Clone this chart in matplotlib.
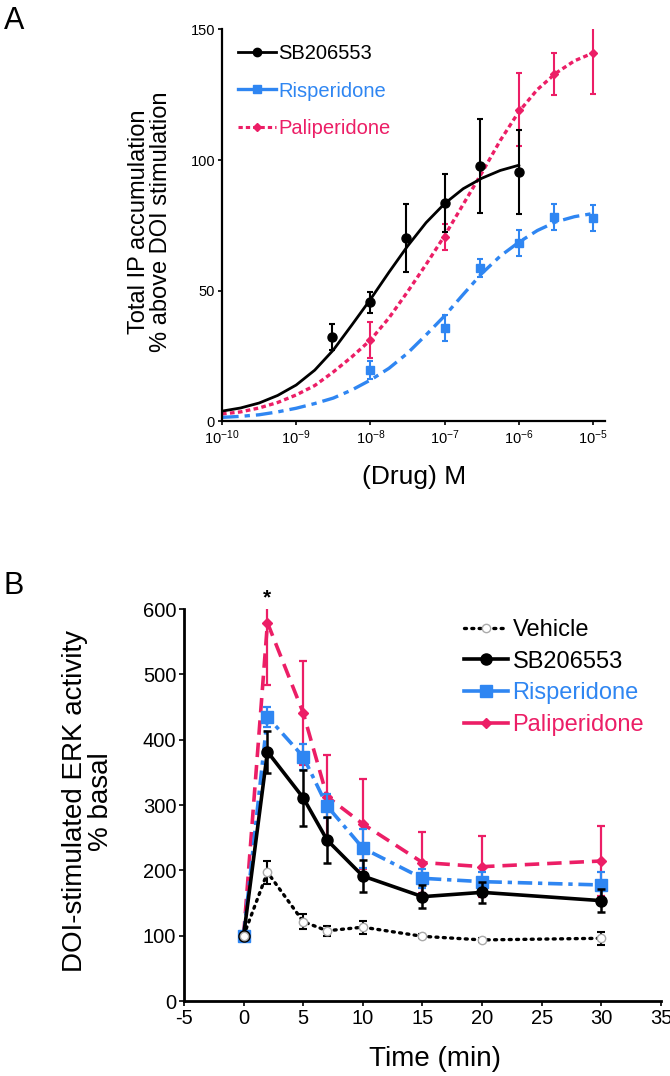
import matplotlib
matplotlib.use("Agg")
import matplotlib.pyplot as plt
import numpy as np

plt.rcParams['font.family'] = ['Liberation Sans', 'DejaVu Sans']
plt.rcParams['mathtext.default'] = 'regular'
plt.rcParams['axes.unicode_minus'] = False

# ---------------- Panel A data ----------------
sb_conc = [3e-9, 1e-8, 3e-8, 1e-7, 3e-7, 1e-6]
sb_resp = [32.1, 45.5, 70.2, 83.6, 97.8, 95.5]
sb_err = [5, 4, 13, 11, 18, 16]

risp_conc = [1e-8, 1e-7, 3e-7, 1e-6, 3e-6, 1e-5]
risp_resp = [19.5, 35.6, 58.5, 68.3, 78.3, 77.7]
risp_err = [3.5, 5, 3.5, 5, 5, 5]

pali_conc = [1e-8, 1e-7, 1e-6, 3e-6, 1e-5]
pali_resp = [31.0, 70.4, 119.2, 132.8, 140.9]
pali_err = [7, 5, 14, 8, 15.5]

# fitted curves (log10 concentration, response)
sb_fit_logc = [-10.0, -9.75, -9.5, -9.25, -9.0, -8.75, -8.5, -8.25, -8.0,
               -7.75, -7.5, -7.25, -7.0, -6.75, -6.5, -6.25, -6.0]
sb_fit = [3.8, 5.0, 6.9, 9.8, 13.8, 19.5, 27.2, 36.8, 46.6,
          57, 67, 76, 83.3, 89, 93, 96, 98]

risp_fit_logc = [-10.0, -9.75, -9.5, -9.25, -9.0, -8.75, -8.5, -8.25, -8.0,
                 -7.75, -7.5, -7.25, -7.0, -6.75, -6.5, -6.25, -6.0,
                 -5.75, -5.5, -5.25, -5.0]
risp_fit = [1.4, 1.8, 2.4, 3.5, 4.9, 6.7, 8.8, 11.9, 15.7,
            20.2, 26, 33, 40.3, 48.5, 56.5, 63.2, 68.5,
            73, 76.3, 78.3, 79.5]

pali_fit_logc = [-10.0, -9.75, -9.5, -9.25, -9.0, -8.75, -8.5, -8.25, -8.0,
                 -7.75, -7.5, -7.25, -7.0, -6.75, -6.5, -6.25, -6.0,
                 -5.75, -5.5, -5.25, -5.0]
pali_fit = [2.7, 3.5, 5.0, 7.1, 10, 13.6, 18.8, 24.6, 31,
            39.5, 49.5, 60, 71, 83, 95, 107.5, 118.5,
            127, 133.3, 138, 141]

a_xticks = [1e-10, 1e-9, 1e-8, 1e-7, 1e-6, 1e-5]
a_xticklabels = [r'10$^{-10}$', r'10$^{-9}$', r'10$^{-8}$', r'10$^{-7}$',
                 r'10$^{-6}$', r'10$^{-5}$']
a_yticks = [0, 50, 100, 150]

# ---------------- Panel B data ----------------
time_min = [0, 2, 5, 7, 10, 15, 20, 30]
veh = [100, 197, 121.5, 107.5, 113, 99, 93.5, 96]
veh_err = [0, 18, 12, 8, 10, 3, 3, 10]
sb_b = [100, 381.6, 311, 246.4, 191.3, 159.7, 166.3, 153.6]
sb_b_err = [0, 32, 43, 35, 25, 18, 16, 18]
risp_b = [100, 435, 374, 298.5, 234, 187.8, 182.7, 177.6]
risp_b_err = [0, 15, 20, 18, 30, 15, 15, 20]
pali_b = [100, 579, 441, 312.8, 271, 212, 205.6, 214.3]
pali_b_err = [0, 95, 80, 64, 69, 46, 47, 54]

b_xticks = [-5, 0, 5, 10, 15, 20, 25, 30, 35]
b_yticks = [0, 100, 200, 300, 400, 500, 600]
star_time, star_val = 2, 617

BLUE = '#2F86F2'
PINK = '#EC1E66'
BLACK = '#000000'

fig = plt.figure(figsize=(6.7, 10.76), dpi=100)

# ================= Panel A =================
axA = fig.add_axes([0.3313, 0.6087, 0.5716, 0.3639])
axA.set_xscale('log')

axA.plot(10 ** np.array(pali_fit_logc), pali_fit, color=PINK, lw=2.4,
         dashes=(1.4, 1.0), zorder=2)
axA.plot(10 ** np.array(risp_fit_logc), risp_fit, color=BLUE, lw=2.4,
         dashes=(5.0, 1.8, 1.6, 1.8), zorder=2)
axA.plot(10 ** np.array(sb_fit_logc), sb_fit, color=BLACK, lw=2.0, zorder=3,
         solid_joinstyle='round')

axA.errorbar(pali_conc, pali_resp, yerr=pali_err, fmt='D', color=PINK, ms=4.5,
             elinewidth=1.5, capsize=2, capthick=1.5, zorder=4)
axA.errorbar(risp_conc, risp_resp, yerr=risp_err, fmt='s', color=BLUE, ms=6,
             elinewidth=1.5, capsize=2, capthick=1.5, zorder=4)
axA.errorbar(sb_conc, sb_resp, yerr=sb_err, fmt='o', color=BLACK, ms=6.5,
             elinewidth=1.5, capsize=2, capthick=1.5, zorder=5)

axA.set_xlim(1e-10, 10 ** -4.84)
axA.set_ylim(0, 150)
axA.set_xticks(a_xticks)
axA.set_xticklabels(a_xticklabels)
axA.xaxis.set_minor_locator(matplotlib.ticker.NullLocator())
axA.set_yticks(a_yticks)
for s in ['top', 'right']:
    axA.spines[s].set_visible(False)
for s in ['left', 'bottom']:
    axA.spines[s].set_linewidth(1.6)
axA.tick_params(axis='both', direction='out', length=3, width=1.2,
                labelsize=10.5, pad=2)
axA.set_ylabel('Total IP accumulation\n% above DOI stimulation', fontsize=17,
               linespacing=1.0)
axA.yaxis.set_label_coords(-0.13, 0.51)
axA.set_xlabel('(Drug) M', fontsize=19)
axA.xaxis.set_label_coords(0.501, -0.112)

hA = [
    matplotlib.lines.Line2D([], [], color=BLACK, lw=2.0, marker='o', ms=6),
    matplotlib.lines.Line2D([], [], color=BLUE, lw=2.4, marker='s', ms=6),
    matplotlib.lines.Line2D([], [], color=PINK, lw=2.2, dashes=(1.4, 1.0),
                            marker='D', ms=4.5),
]
legA = axA.legend(hA, ['SB206553', 'Risperidone', 'Paliperidone'],
                  loc='upper left', bbox_to_anchor=(238 / 670, 1 - 44 / 1076),
                  bbox_transform=fig.transFigure, frameon=False, fontsize=14.5,
                  handlelength=1.9, handletextpad=0.08, labelspacing=0.92,
                  borderpad=0, borderaxespad=0)
for t, c in zip(legA.get_texts(), [BLACK, BLUE, PINK]):
    t.set_color(c)

# ================= Panel B =================
axB = fig.add_axes([0.2746, 0.0697, 0.7119, 0.3643])

axB.errorbar(time_min, pali_b, yerr=pali_b_err, color=PINK, lw=2.6,
             dashes=(4.0, 2.2), marker='D', ms=5.5, elinewidth=1.6,
             capsize=3, capthick=1.6, zorder=2)
axB.errorbar(time_min, risp_b, yerr=risp_b_err, color=BLUE, lw=2.6,
             dashes=(4.0, 1.6, 1.2, 1.6), marker='s', ms=8, elinewidth=1.6,
             capsize=3, capthick=1.6, zorder=3)
axB.errorbar(time_min, sb_b, yerr=sb_b_err, color=BLACK, lw=2.6,
             marker='o', ms=8, elinewidth=1.8, capsize=3, capthick=1.8,
             zorder=4)
veh_line = axB.errorbar(time_min, veh, yerr=veh_err, color=BLACK, lw=2.4,
                        linestyle=(0, (0.6, 1.6)), marker='o', ms=6,
                        mfc='white', mec='#aaaaaa', elinewidth=1.5,
                        capsize=3, capthick=1.5, zorder=5)
veh_line[0].set_dash_capstyle('round')

axB.text(star_time, star_val, '*', ha='center', va='center', fontsize=15,
         fontweight='bold', clip_on=False)

axB.set_xlim(-5, 35)
axB.set_ylim(0, 600)
axB.set_xticks(b_xticks)
axB.set_yticks(b_yticks)
for s in ['top', 'right']:
    axB.spines[s].set_visible(False)
for s in ['left', 'bottom']:
    axB.spines[s].set_linewidth(2.0)
axB.tick_params(axis='both', direction='out', length=3.5, width=1.2,
                labelsize=14.5, pad=2)
axB.set_ylabel('DOI-stimulated ERK activity\n% basal', fontsize=20,
               linespacing=1.0)
axB.yaxis.set_label_coords(-0.147, 0.509)
axB.set_xlabel('Time (min)', fontsize=20)
axB.xaxis.set_label_coords(0.526, -0.115)

hB = [
    matplotlib.lines.Line2D([], [], color=BLACK, lw=2.4,
                            linestyle=(0, (0.6, 1.6)), marker='o', ms=6,
                            mfc='white', mec='#aaaaaa', dash_capstyle='round'),
    matplotlib.lines.Line2D([], [], color=BLACK, lw=2.6, marker='o', ms=8),
    matplotlib.lines.Line2D([], [], color=BLUE, lw=2.6, marker='s', ms=8),
    matplotlib.lines.Line2D([], [], color=PINK, lw=2.6, marker='D', ms=5.5),
]
legB = axB.legend(hB, ['Vehicle', 'SB206553', 'Risperidone', 'Paliperidone'],
                  loc='upper left', bbox_to_anchor=(464 / 670, 1 - 619 / 1076),
                  bbox_transform=fig.transFigure, frameon=False, fontsize=17,
                  handlelength=1.85, handletextpad=0.2, labelspacing=0.41,
                  borderpad=0, borderaxespad=0)
for t, c in zip(legB.get_texts(), [BLACK, BLACK, BLUE, PINK]):
    t.set_color(c)

fig.text(4 / 670, 1 - 21 / 1076, 'A', fontsize=22, ha='left', va='center')
fig.text(4 / 670, 1 - 586 / 1076, 'B', fontsize=22, ha='left', va='center')

fig.savefig('out.png', dpi=100)
